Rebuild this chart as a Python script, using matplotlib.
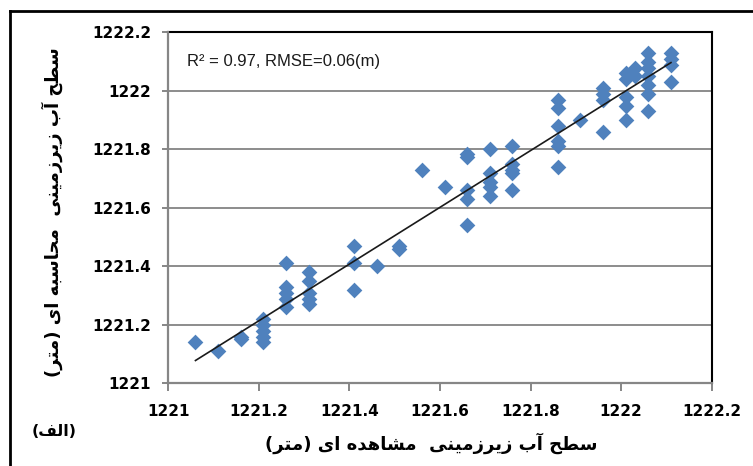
import numpy as np
import matplotlib
matplotlib.use("Agg")
import matplotlib.pyplot as plt
from matplotlib.lines import Line2D

# observed vs computed groundwater level (m)
observed = [
    1221.06, 1221.11, 1221.16, 1221.16,
    1221.21, 1221.21, 1221.21, 1221.21, 1221.21,
    1221.26, 1221.26, 1221.26, 1221.26, 1221.26,
    1221.31, 1221.31, 1221.31, 1221.31, 1221.31,
    1221.41, 1221.41, 1221.41, 1221.46, 1221.51, 1221.51,
    1221.56, 1221.61,
    1221.66, 1221.66, 1221.66, 1221.66, 1221.66,
    1221.71, 1221.71, 1221.71, 1221.71, 1221.71,
    1221.76, 1221.76, 1221.76, 1221.76, 1221.76,
    1221.86, 1221.86, 1221.86, 1221.86, 1221.86, 1221.86,
    1221.91,
    1221.96, 1221.96, 1221.96, 1221.96,
    1222.01, 1222.01, 1222.01, 1222.01, 1222.01,
    1222.03, 1222.03,
    1222.06, 1222.06, 1222.06, 1222.06, 1222.06, 1222.06, 1222.06,
    1222.11, 1222.11, 1222.11, 1222.11,
]
computed = [
    1221.14, 1221.11, 1221.15, 1221.16,
    1221.14, 1221.16, 1221.18, 1221.20, 1221.22,
    1221.41, 1221.33, 1221.31, 1221.29, 1221.26,
    1221.38, 1221.35, 1221.31, 1221.29, 1221.27,
    1221.47, 1221.41, 1221.32, 1221.40, 1221.47, 1221.46,
    1221.73, 1221.67,
    1221.785, 1221.775, 1221.66, 1221.63, 1221.54,
    1221.80, 1221.72, 1221.69, 1221.67, 1221.64,
    1221.81, 1221.75, 1221.73, 1221.72, 1221.66,
    1221.97, 1221.94, 1221.88, 1221.83, 1221.81, 1221.74,
    1221.90,
    1222.01, 1221.99, 1221.97, 1221.86,
    1222.06, 1222.04, 1221.98, 1221.95, 1221.90,
    1222.08, 1222.05,
    1222.13, 1222.10, 1222.08, 1222.05, 1222.02, 1221.99, 1221.93,
    1222.13, 1222.11, 1222.09, 1222.03,
]
ticks = [1221, 1221.2, 1221.4, 1221.6, 1221.8, 1222, 1222.2]
tick_labels = ["1221", "1221.2", "1221.4", "1221.6", "1221.8", "1222", "1222.2"]
stats_text = "R\u00b2 = 0.97, RMSE=0.06(m)"

# Persian letters -> (isolated, final, initial, medial) presentation forms
FORMS = {
    '\u0627': ('\uFE8D', '\uFE8E', None, None),        # alef
    '\u0622': ('\uFE81', '\uFE82', None, None),        # alef madda
    '\u0628': ('\uFE8F', '\uFE90', '\uFE91', '\uFE92'),  # beh
    '\u062A': ('\uFE95', '\uFE96', '\uFE97', '\uFE98'),  # teh
    '\u062D': ('\uFEA1', '\uFEA2', '\uFEA3', '\uFEA4'),  # hah
    '\u062F': ('\uFEA9', '\uFEAA', None, None),        # dal
    '\u0631': ('\uFEAD', '\uFEAE', None, None),        # reh
    '\u0632': ('\uFEAF', '\uFEB0', None, None),        # zain
    '\u0633': ('\uFEB1', '\uFEB2', '\uFEB3', '\uFEB4'),  # seen
    '\u0634': ('\uFEB5', '\uFEB6', '\uFEB7', '\uFEB8'),  # sheen
    '\u0637': ('\uFEC1', '\uFEC2', '\uFEC3', '\uFEC4'),  # tah
    '\u0641': ('\uFED1', '\uFED2', '\uFED3', '\uFED4'),  # feh
    '\u0644': ('\uFEDD', '\uFEDE', '\uFEDF', '\uFEE0'),  # lam
    '\u0645': ('\uFEE1', '\uFEE2', '\uFEE3', '\uFEE4'),  # meem
    '\u0646': ('\uFEE5', '\uFEE6', '\uFEE7', '\uFEE8'),  # noon
    '\u0647': ('\uFEE9', '\uFEEA', '\uFEEB', '\uFEEC'),  # heh
    '\u06CC': ('\uFEEF', '\uFEF0', '\uFEF3', '\uFEF4'),  # farsi yeh
}


def shape_rtl(text):
    """join letters and flip to visual order, since matplotlib has no bidi"""
    out = []
    for i, ch in enumerate(text):
        if ch not in FORMS:
            out.append(ch)
            continue
        prev = text[i - 1] if i > 0 else ''
        nxt = text[i + 1] if i + 1 < len(text) else ''
        iso, fin, ini, med = FORMS[ch]
        join_prev = prev in FORMS and FORMS[prev][2] is not None
        join_next = ini is not None and nxt in FORMS
        if join_prev and join_next:
            out.append(med)
        elif join_prev:
            out.append(fin)
        elif join_next:
            out.append(ini)
        else:
            out.append(iso)
    mirror = {'(': ')', ')': '('}
    return ''.join(mirror.get(c, c) for c in reversed(out))


xlabel = shape_rtl("سطح آب زیرزمینی  مشاهده ای (متر)")
ylabel = shape_rtl("سطح آب زیرزمینی  محاسبه ای (متر)")
panel = shape_rtl("(الف)")

x = np.array(observed)
y = np.array(computed)
slope, intercept = np.polyfit(x, y, 1)
fit_x = np.array([x.min(), x.max()])

fig = plt.figure(figsize=(7.53, 4.66), dpi=100)
ax = fig.add_axes([0.2235, 0.1775, 0.7217, 0.7528])

ax.set_axisbelow(True)
ax.yaxis.grid(True, color='#8c8c8c', linewidth=1.4)
ax.scatter(x, y, marker='D', s=64, color='#4F81BD', linewidths=0, zorder=3)
ax.plot(fit_x, slope * fit_x + intercept, color='#1a1a1a', linewidth=1.2, zorder=4)

ax.set_xlim(1221, 1222.2)
ax.set_ylim(1221, 1222.2)
ax.set_xticks(ticks)
ax.set_xticklabels(tick_labels)
ax.set_yticks(ticks)
ax.set_yticklabels(tick_labels)

for side in ['top', 'right']:
    ax.spines[side].set_color('black')
    ax.spines[side].set_linewidth(1.5)
for side in ['left', 'bottom']:
    ax.spines[side].set_color('#868686')
    ax.spines[side].set_linewidth(1.6)
    ax.spines[side].set_zorder(5)

ax.tick_params(axis='x', direction='out', length=6, width=1.4, color='#868686',
               pad=9, labelsize=11)
ax.tick_params(axis='y', direction='out', length=4.3, width=1.4, color='#868686',
               pad=8, labelsize=11)
for lab in ax.get_xticklabels() + ax.get_yticklabels():
    lab.set_fontweight('bold')
    lab.set_family('DejaVu Sans')

ax.text(0.034, 0.917, stats_text, transform=ax.transAxes, ha='left', va='center',
        fontsize=12, family='Liberation Sans', color='#1a1a1a')

ax.set_xlabel(xlabel, fontsize=13, fontweight='bold', family='DejaVu Sans', va='center')
ax.xaxis.set_label_coords(0.483, -0.172)
ax.set_ylabel(ylabel, fontsize=13, fontweight='bold', family='DejaVu Sans', va='center')
ax.yaxis.set_label_coords(-0.214, 0.488)

fig.text(54 / 753, 1 - 432 / 466, panel, ha='center', va='center', fontsize=11.5,
         fontweight='bold', family='DejaVu Sans')

# outer chart frame, cut by the image edge on the right and bottom
fig.add_artist(Line2D([10 / 753, 10 / 753], [-0.05, 1 - 11 / 466],
                      transform=fig.transFigure, color='black', linewidth=2))
fig.add_artist(Line2D([10 / 753, 1.05], [1 - 11 / 466, 1 - 11 / 466],
                      transform=fig.transFigure, color='black', linewidth=2))

fig.savefig("out.png", dpi=100)
